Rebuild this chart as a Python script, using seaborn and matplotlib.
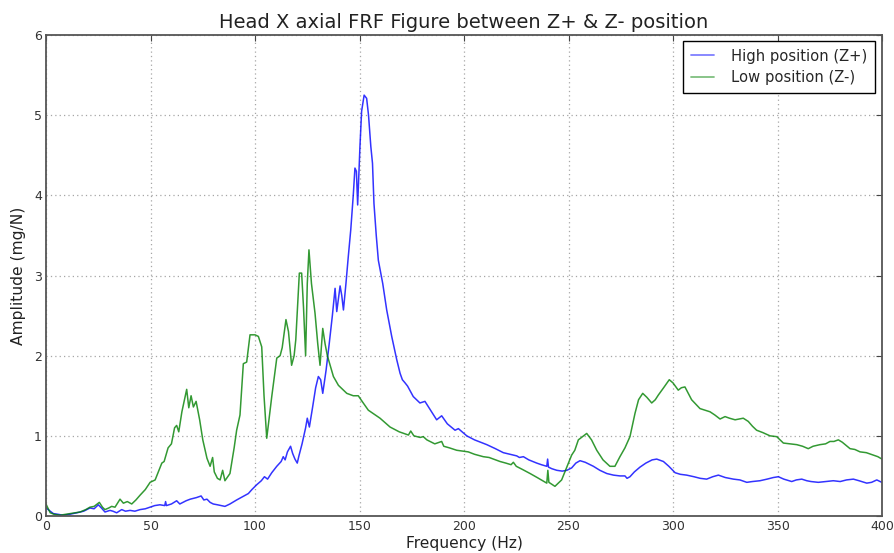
import matplotlib
matplotlib.use("Agg")
import matplotlib.pyplot as plt
import numpy as np
import pandas as pd
import seaborn as sns

# Frequency response, high position (Z+)
high_freq = [0, 1, 3.5, 6, 8, 11, 14.7, 18, 21, 23, 25, 26.5, 28.2, 30.6, 32, 33.8, 36.2, 38,
             40.2, 42.5, 45, 47.5, 49.8, 52, 54.5, 56.8, 57.2, 57.6, 60, 62.5, 64, 67, 69, 72,
             74.2, 75.5, 77, 78.5, 80, 82, 85.6, 88, 91.2, 94, 96.8, 98.5, 100.8, 103, 104.5,
             106, 108, 110.4, 112.5, 113.5, 114.4, 115.5, 117, 118, 119.1, 120.2, 121, 122.5,
             124.2, 125, 126, 127.5, 129, 130.3, 131.4, 132.4, 134, 135.5, 137, 138.3, 139.1,
             140.7, 141.5, 142.3, 143.5, 144.6, 145.8, 147, 147.8, 148.5, 149.1, 149.6, 150.2,
             151, 152.2, 153.4, 154.3, 155.4, 156.2, 156.9, 158, 159, 161.1, 163, 165.4, 167.8,
             169.4, 170.5, 171.8, 173, 175.7, 178.9, 181.3, 184, 186.9, 189.3, 192, 195.7, 197.3,
             201.3, 205, 210.9, 215, 218.8, 222, 225.2, 226.5, 228.4, 231, 234.8, 237, 239.6,
             240, 240.4, 242, 244.4, 247, 249.2, 251.5, 253.5, 255.5, 258, 261.9, 265, 268.3,
             271.5, 274.6, 277, 278, 279.4, 281.5, 284.2, 287, 290, 292.2, 295.4, 298, 301,
             303.5, 306.5, 310, 313, 316.1, 319, 321.7, 325, 328.9, 332, 335.3, 338, 341.6, 345,
             348, 350.4, 353, 356.8, 359, 361.6, 364, 366, 369.5, 373, 376.7, 380, 383, 386.3,
             389, 392.7, 395, 397.5, 399.9]
high_amp = [0.1, 0.08, 0.03, 0.02, 0.01, 0.02, 0.04, 0.06, 0.1, 0.09, 0.14, 0.1, 0.05, 0.07,
            0.06, 0.04, 0.08, 0.06, 0.07, 0.06, 0.08, 0.09, 0.11, 0.13, 0.14, 0.13, 0.18, 0.13,
            0.15, 0.19, 0.15, 0.19, 0.21, 0.23, 0.25, 0.2, 0.21, 0.17, 0.15, 0.14, 0.12, 0.15,
            0.2, 0.24, 0.28, 0.33, 0.39, 0.44, 0.49, 0.46, 0.54, 0.62, 0.68, 0.74, 0.70, 0.8,
            0.87, 0.78, 0.71, 0.66, 0.75, 0.9, 1.1, 1.22, 1.11, 1.35, 1.6, 1.74, 1.7, 1.53, 1.82,
            2.15, 2.5, 2.84, 2.55, 2.87, 2.75, 2.57, 2.9, 3.23, 3.57, 4.0, 4.34, 4.3, 3.88, 4.2,
            4.61, 5.05, 5.25, 5.21, 5.0, 4.61, 4.4, 3.9, 3.5, 3.19, 2.9, 2.57, 2.24, 1.95, 1.78,
            1.7, 1.66, 1.62, 1.49, 1.41, 1.43, 1.32, 1.2, 1.25, 1.15, 1.07, 1.09, 1.0, 0.95,
            0.89, 0.84, 0.79, 0.77, 0.75, 0.73, 0.74, 0.7, 0.66, 0.64, 0.62, 0.71, 0.61, 0.59,
            0.57, 0.56, 0.57, 0.6, 0.66, 0.69, 0.67, 0.62, 0.57, 0.53, 0.51, 0.5, 0.5, 0.47,
            0.49, 0.55, 0.61, 0.66, 0.7, 0.71, 0.68, 0.62, 0.54, 0.52, 0.51, 0.49, 0.47, 0.46,
            0.49, 0.51, 0.48, 0.46, 0.45, 0.42, 0.43, 0.44, 0.46, 0.48, 0.49, 0.46, 0.43, 0.45,
            0.46, 0.44, 0.43, 0.42, 0.43, 0.44, 0.43, 0.45, 0.46, 0.44, 0.41, 0.42, 0.45, 0.42]

# Frequency response, low position (Z-)
low_freq = [0, 0.5, 2, 4, 6.7, 9, 11.5, 14, 16.3, 19, 21, 23, 25.5, 27, 28.2, 30, 31.4, 33,
            35.4, 37, 38.9, 41, 43, 45, 47.5, 49.8, 52.2, 55.4, 56.5, 58.4, 60, 61.5, 62.5,
            63.5, 65, 67.3, 68.3, 69.4, 70.5, 71.8, 73.5, 75, 77, 78.5, 79.7, 80.5, 82, 83.3,
            84.5, 85.6, 88, 90, 91.2, 92.8, 94.4, 96, 97.6, 100, 101.6, 103.2, 104.3, 105.6, 108,
            110.4, 112, 113, 114.8, 116, 117.5, 118.7, 119.5, 121.2, 122.3, 123.2, 124.2, 125,
            125.8, 127, 128.7, 130, 131.1, 132.4, 133.5, 134.6, 137.5, 139.9, 143.9, 147, 149.4,
            151.5, 154.2, 157, 159.8, 164.6, 169, 173.4, 174.5, 176, 179, 180.5, 182.2, 186,
            189.3, 190.3, 193, 196.5, 202, 205, 209.2, 212, 217.2, 220, 222.5, 223.6, 225, 228,
            231.6, 235, 239.6, 240.1, 240.6, 243.5, 246.7, 249, 251.5, 253, 254.7, 258.7, 261,
            263.5, 266.5, 269.8, 272.2, 274.6, 277, 279.4, 281.8, 283.5, 285.5, 287.5, 289.8,
            291.5, 293, 295.5, 298.2, 300, 302.5, 304, 305.7, 307.5, 308.9, 312.9, 317.7, 320,
            322.5, 324.9, 327, 329.7, 333.6, 336, 338, 340, 343, 346.4, 349.6, 352.8, 356,
            359.2, 362, 364.7, 367, 370.3, 373, 375.1, 377, 379.1, 381, 384.7, 387, 389.5,
            392.5, 395.8, 398, 400]
low_amp = [0.15, 0.12, 0.04, 0.02, 0.01, 0.02, 0.03, 0.04, 0.05, 0.08, 0.11, 0.12, 0.17, 0.11,
           0.08, 0.1, 0.12, 0.11, 0.21, 0.16, 0.18, 0.15, 0.2, 0.26, 0.33, 0.42, 0.45, 0.66,
           0.68, 0.85, 0.9, 1.1, 1.13, 1.05, 1.3, 1.58, 1.35, 1.5, 1.36, 1.43, 1.2, 0.95, 0.72,
           0.62, 0.73, 0.55, 0.47, 0.45, 0.57, 0.44, 0.53, 0.85, 1.07, 1.26, 1.9, 1.92, 2.26,
           2.26, 2.24, 2.11, 1.5, 0.97, 1.49, 1.97, 2.0, 2.1, 2.45, 2.3, 1.88, 2.0, 2.2, 3.03,
           3.03, 2.6, 2.0, 2.9, 3.32, 2.9, 2.53, 2.15, 1.88, 2.34, 2.15, 2.0, 1.74, 1.63, 1.53,
           1.5, 1.5, 1.42, 1.32, 1.27, 1.22, 1.11, 1.05, 1.01, 1.06, 1.0, 0.98, 0.99, 0.95,
           0.9, 0.93, 0.87, 0.85, 0.82, 0.8, 0.77, 0.74, 0.73, 0.68, 0.66, 0.64, 0.67, 0.62,
           0.58, 0.53, 0.48, 0.41, 0.57, 0.42, 0.37, 0.45, 0.6, 0.76, 0.82, 0.95, 1.03, 0.95,
           0.82, 0.7, 0.62, 0.62, 0.74, 0.85, 0.99, 1.28, 1.45, 1.53, 1.48, 1.41, 1.45, 1.51,
           1.6, 1.70, 1.66, 1.57, 1.6, 1.61, 1.52, 1.45, 1.34, 1.30, 1.26, 1.21, 1.24, 1.22,
           1.2, 1.22, 1.18, 1.12, 1.07, 1.04, 1.0, 0.99, 0.91, 0.9, 0.89, 0.87, 0.84, 0.87,
           0.89, 0.9, 0.93, 0.93, 0.95, 0.92, 0.84, 0.83, 0.80, 0.79, 0.76, 0.74, 0.71]

series_names = ["High position (Z+)", "Low position (Z-)"]
series_colors = ["#0000ff", "#008000"]

x_ticks = [0, 50, 100, 150, 200, 250, 300, 350, 400]
y_ticks = [0, 1, 2, 3, 4, 5, 6]

df = pd.concat([
    pd.DataFrame({"freq": high_freq, "amp": high_amp, "series": series_names[0]}),
    pd.DataFrame({"freq": low_freq, "amp": low_amp, "series": series_names[1]}),
], ignore_index=True)

sns.set_style("white")
plt.rcParams["font.family"] = ["DejaVu Sans"]

fig = plt.figure(figsize=(8.94, 5.53), dpi=100)
ax = fig.add_axes([0.0515, 0.0669, 0.9351, 0.8698])

sns.lineplot(data=df, x="freq", y="amp", hue="series",
             palette=dict(zip(series_names, series_colors)),
             estimator=None, sort=False, linewidth=1.1, alpha=0.8, ax=ax)

ax.set_xlim(0, 400)
ax.set_ylim(0, 6)
ax.set_xticks(x_ticks)
ax.set_yticks(y_ticks)
ax.tick_params(direction="in", top=True, right=True, length=4, width=0.8,
               labelsize=9, colors="#444444", labelcolor="#333333", pad=3)
ax.grid(True, linestyle=(0, (1, 2.5)), color="0.65", linewidth=0.9)
for s in ax.spines.values():
    s.set_color("#555555")
    s.set_linewidth(1.3)

ax.set_xlabel("Frequency (Hz)", fontsize=11.2, labelpad=2, color="#222222")
ax.set_ylabel("Amplitude (mg/N)", fontsize=11.2, labelpad=6, color="#222222")
ax.set_title("Head X axial FRF Figure between Z+ & Z- position", fontsize=14, pad=5,
             color="#222222")

handles, labels = ax.get_legend_handles_labels()
leg = ax.legend(handles, labels, loc="upper right", fontsize=10.6, frameon=True,
                fancybox=False, edgecolor="black", framealpha=1, handlelength=1.6,
                borderpad=0.5, labelspacing=0.45, handletextpad=1.15,
                borderaxespad=0, bbox_to_anchor=(0.9915, 0.987))
leg.get_frame().set_linewidth(1.0)
for line in leg.get_lines():
    line.set_alpha(0.5)
    line.set_linewidth(1.3)

fig.savefig("out.png", dpi=100)
